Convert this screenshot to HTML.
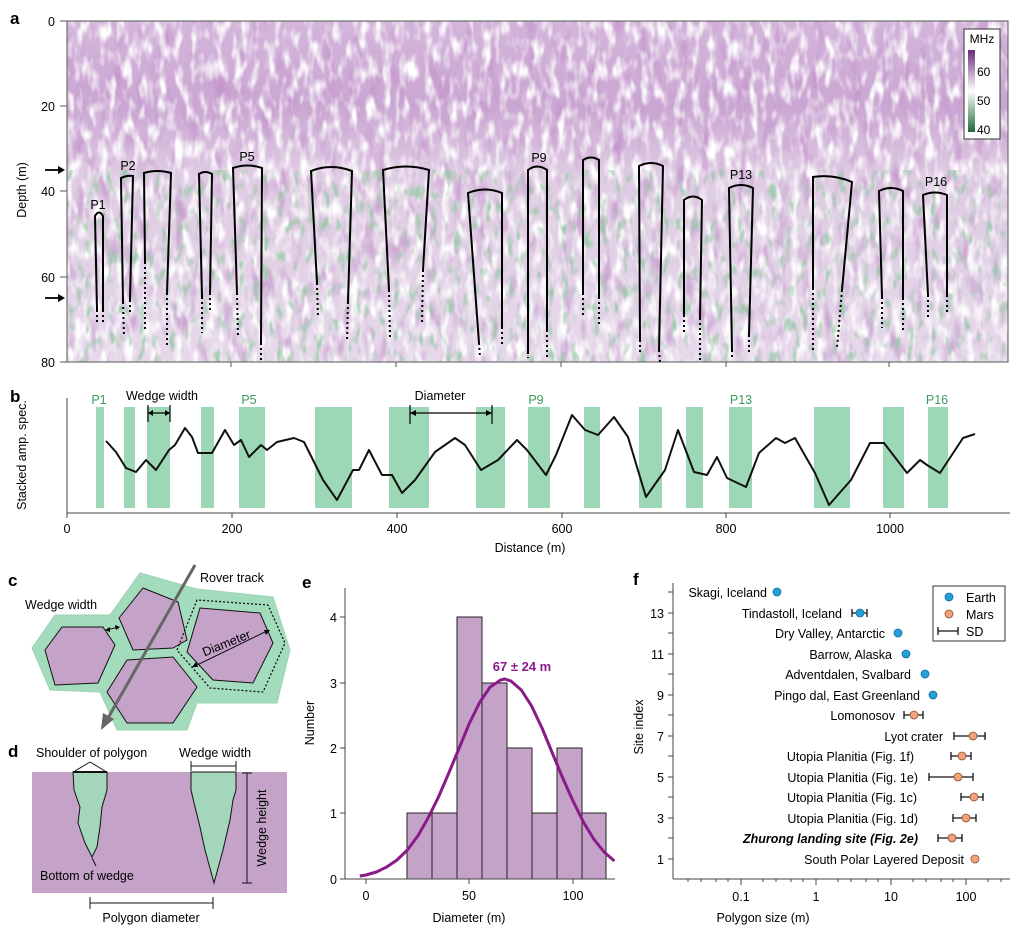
<!DOCTYPE html>
<html><head><meta charset="utf-8"><style>
body{margin:0;background:#fff}
svg{display:block;font-family:"Liberation Sans",sans-serif}
</style></head><body>
<svg width="1024" height="943" viewBox="0 0 1024 943" xmlns="http://www.w3.org/2000/svg">
<defs>
<linearGradient id="bg" x1="0" y1="0" x2="0" y2="1">
<stop offset="0" stop-color="#d4b6db"/><stop offset="0.25" stop-color="#caa6d2"/>
<stop offset="0.45" stop-color="#dfcbe3"/><stop offset="1" stop-color="#e6d8ea"/></linearGradient>
<linearGradient id="cb" x1="0" y1="0" x2="0" y2="1">
<stop offset="0" stop-color="#6a2a7a"/><stop offset="0.5" stop-color="#ffffff"/><stop offset="1" stop-color="#1d6b3a"/></linearGradient>
<filter id="nw" x="0" y="0" width="1" height="1"><feTurbulence type="fractalNoise" baseFrequency="0.12 0.05" numOctaves="2" seed="3"/><feColorMatrix type="matrix" values="0 0 0 0 1 0 0 0 0 1 0 0 0 0 1 3 0 0 0 -1.35"/></filter>
<filter id="np" x="0" y="0" width="1" height="1"><feTurbulence type="fractalNoise" baseFrequency="0.08 0.03" numOctaves="2" seed="7"/><feColorMatrix type="matrix" values="0 0 0 0 0.55 0 0 0 0 0.3 0 0 0 0 0.6 0 0 3 0 -1.55"/></filter>
<filter id="ng" x="0" y="0" width="1" height="1"><feTurbulence type="fractalNoise" baseFrequency="0.13 0.06" numOctaves="2" seed="11"/><feColorMatrix type="matrix" values="0 0 0 0 0.33 0 0 0 0 0.58 0 0 0 0 0.4 0 4 0 0 -2.2"/></filter>
</defs>
<!-- Panel a -->
<text x="10" y="24" font-size="17" font-weight="bold">a</text>
<rect x="67" y="21" width="941" height="341" fill="url(#bg)"/>
<rect x="67" y="21" width="941" height="341" filter="url(#np)" opacity="0.85"/>
<rect x="67" y="21" width="941" height="341" filter="url(#nw)"/>
<rect x="67" y="170" width="941" height="192" filter="url(#ng)" opacity="0.85"/>
<rect x="67" y="21" width="941" height="341" fill="none" stroke="#555" stroke-width="1"/>
<g font-size="12.5" text-anchor="end">
<text x="55" y="26">0</text><text x="55" y="111">20</text><text x="55" y="196">40</text><text x="55" y="282">60</text><text x="55" y="367">80</text></g>
<g stroke="#555"><line x1="60" y1="21" x2="67" y2="21"/><line x1="60" y1="106" x2="67" y2="106"/><line x1="60" y1="191" x2="67" y2="191"/><line x1="60" y1="277" x2="67" y2="277"/><line x1="60" y1="362" x2="67" y2="362"/>
<line x1="231" y1="362" x2="231" y2="367"/><line x1="396" y1="362" x2="396" y2="367"/><line x1="561" y1="362" x2="561" y2="367"/><line x1="726" y1="362" x2="726" y2="367"/><line x1="889" y1="362" x2="889" y2="367"/></g>
<text transform="translate(26,190) rotate(-90)" font-size="12.5" text-anchor="middle">Depth (m)</text>
<g stroke="#000" stroke-width="1.8"><line x1="45" y1="170" x2="60" y2="170"/><line x1="45" y1="298" x2="60" y2="298"/></g>
<path d="M58,166 L65,170 L58,174Z M58,294 L65,298 L58,302Z" fill="#000"/>
<g fill="none" stroke="#000" stroke-width="2">
<path d="M97,310 L95,216 Q99,209 103,216 L103,310"/>
<path d="M123,302 L121,178 Q127,175 133,176 L130,300"/>
<path d="M145,262 L144,173 Q157,169 171,173 L167,293"/>
<path d="M202,297 L199,174 Q205,170 212,174 L210,293"/>
<path d="M237,293 L233,168 Q247,163 262,168 L261,343"/>
<path d="M317,283 L311,171 Q331,163 352,171 L348,302"/>
<path d="M389,290 L383,170 Q406,163 429,170 L423,270"/>
<path d="M479,343 L468,193 Q485,186 502,193 L502,327"/>
<path d="M528,352 L528,170 Q537,163 547,170 L547,330"/>
<path d="M583,293 L583,160 Q591,155 599,160 L599,297"/>
<path d="M640,340 L639,166 Q651,160 663,166 L659,350"/>
<path d="M684,315 L684,200 Q693,193 702,200 L700,318"/>
<path d="M732,350 L729,188 Q741,182 753,188 L749,335"/>
<path d="M813,288 L813,177 Q833,174 852,182 L842,290"/>
<path d="M882,297 L879,191 Q891,185 903,191 L903,298"/>
<path d="M928,295 L923,195 Q935,190 947,195 L947,295"/>
</g>
<g fill="none" stroke="#000" stroke-width="2" stroke-dasharray="2 3">
<path d="M97,310 L97,325 M103,310 L103,325 M123,302 L124,337 M130,300 L130,315 M145,262 L145,330 M167,293 L167,347 M202,297 L202,333 M210,293 L210,312 M237,293 L238,338 M261,343 L261,360 M317,283 L318,318 M348,302 L347,342 M389,290 L390,340 M423,270 L422,325 M479,343 L480,357 M502,327 L502,345 M528,352 L528,358 M547,330 L547,357 M583,293 L583,317 M599,297 L599,325 M640,340 L640,352 M659,350 L660,362 M684,315 L684,335 M700,318 L700,362 M732,350 L732,360 M749,335 L749,352 M813,288 L813,353 M842,290 L837,348 M882,297 L882,328 M903,298 L903,333 M928,295 L928,320 M947,295 L947,315"/></g>
<g font-size="12.5" text-anchor="middle"><text x="98" y="209">P1</text><text x="128" y="170">P2</text><text x="247" y="161">P5</text><text x="539" y="162">P9</text><text x="741" y="179">P13</text><text x="936" y="186">P16</text></g>
<rect x="964" y="29" width="36" height="110" fill="#fff" stroke="#333"/>
<text x="982" y="43" font-size="12" text-anchor="middle">MHz</text>
<rect x="968" y="50" width="7" height="82" fill="url(#cb)"/>
<g font-size="12"><text x="977" y="76">60</text><text x="977" y="105">50</text><text x="977" y="134">40</text></g>
<!-- Panel b -->
<text x="10" y="402" font-size="17" font-weight="bold">b</text>
<g fill="#9dd8b6">
<rect x="96" y="407" width="8" height="101"/><rect x="124" y="407" width="11" height="101"/><rect x="147" y="407" width="23" height="101"/><rect x="201" y="407" width="13" height="101"/><rect x="239" y="407" width="26" height="101"/><rect x="315" y="407" width="37" height="101"/><rect x="389" y="407" width="40" height="101"/><rect x="476" y="407" width="29" height="101"/><rect x="528" y="407" width="22" height="101"/><rect x="584" y="407" width="16" height="101"/><rect x="639" y="407" width="23" height="101"/><rect x="686" y="407" width="17" height="101"/><rect x="729" y="407" width="23" height="101"/><rect x="814" y="407" width="36" height="101"/><rect x="883" y="407" width="21" height="101"/><rect x="928" y="407" width="20" height="101"/></g>
<g font-size="12.5" fill="#3a9a5a" text-anchor="middle"><text x="99" y="404">P1</text><text x="249" y="404">P5</text><text x="536" y="404">P9</text><text x="741" y="404">P13</text><text x="937" y="404">P16</text></g>
<text x="162" y="400" font-size="12.5" text-anchor="middle">Wedge width</text>
<text x="440" y="400" font-size="12.5" text-anchor="middle">Diameter</text>
<g stroke="#000" stroke-width="1.2"><line x1="148" y1="413" x2="170" y2="413"/><line x1="148" y1="405" x2="148" y2="422"/><line x1="170" y1="405" x2="170" y2="422"/>
<line x1="410" y1="413" x2="492" y2="413"/><line x1="410" y1="405" x2="410" y2="424"/><line x1="492" y1="405" x2="492" y2="424"/></g>
<path d="M148,413 l5,-3 v6z M170,413 l-5,-3 v6z M410,413 l6,-3 v6z M492,413 l-6,-3 v6z"/>
<polyline fill="none" stroke="#111" stroke-width="2" stroke-linejoin="round" points="106,441 116,452 126,468 136,472 146,460 156,470 169,450 175,445 185,428 192,437 198,453 212,453 225,430 234,445 241,440 249,457 261,445 267,450 277,442 294,438 304,442 323,480 337,500 353,470 359,470 369,450 382,475 392,475 402,493 415,480 435,452 455,438 465,445 481,470 498,460 517,440 527,450 546,475 556,455 572,415 585,430 598,435 614,417 628,437 646,497 665,470 678,430 694,472 707,475 717,457 727,478 746,487 759,453 776,438 785,443 795,438 815,473 829,505 851,480 870,443 884,443 907,473 920,460 927,465 940,473 963,438 975,434"/>
<g stroke="#444"><line x1="67" y1="513" x2="1010" y2="513"/><line x1="67" y1="398" x2="67" y2="513"/>
<line x1="67" y1="513" x2="67" y2="518"/><line x1="232" y1="513" x2="232" y2="518"/><line x1="397" y1="513" x2="397" y2="518"/><line x1="562" y1="513" x2="562" y2="518"/><line x1="726" y1="513" x2="726" y2="518"/><line x1="890" y1="513" x2="890" y2="518"/></g>
<g font-size="12.5" text-anchor="middle"><text x="67" y="533">0</text><text x="232" y="533">200</text><text x="397" y="533">400</text><text x="562" y="533">600</text><text x="726" y="533">800</text><text x="890" y="533">1000</text>
<text x="530" y="552">Distance (m)</text></g>
<text transform="translate(26,455) rotate(-90)" font-size="12.5" text-anchor="middle">Stacked amp. spec.</text>
<!-- Panel c -->
<text x="8" y="586" font-size="17" font-weight="bold">c</text>
<polygon points="32,648 55,615 110,615 140,573 197,589 273,597 290,650 277,703 197,703 187,730 117,730 100,692 50,690" fill="#a3dbbd" stroke="#9cd3b5"/>
<g fill="#c5a3c9" stroke="#111" stroke-width="1">
<polygon points="45,650 62,627 103,627 115,645 98,683 55,685"/>
<polygon points="119,618 143,588 178,602 187,640 173,648 133,650"/>
<polygon points="107,692 127,660 173,657 197,687 173,723 127,723"/>
<polygon points="187,652 200,608 260,613 273,643 253,683 213,680"/></g>
<polygon points="177,650 197,600 268,605 285,643 263,692 210,688" fill="none" stroke="#111" stroke-width="1.3" stroke-dasharray="2 2"/>
<line x1="195" y1="565" x2="108" y2="718" stroke="#666" stroke-width="3"/>
<path d="M101,730 L103,713 L114,719Z" fill="#666"/>
<g stroke="#111" stroke-width="1"><line x1="106" y1="630" x2="119" y2="627"/><line x1="193" y1="667" x2="269" y2="630"/></g>
<path d="M105,630 l5,-3 l0,5z M120,627 l-5,-2 l1,5z M192,667 l4,-5 l2,5z M270,630 l-4,5 l-2,-5z"/>
<g font-size="12.5"><text x="25" y="609">Wedge width</text><text x="200" y="582">Rover track</text></g>
<text transform="translate(228,647) rotate(-22)" font-size="12.5" text-anchor="middle">Diameter</text>
<!-- Panel d -->
<text x="8" y="757" font-size="17" font-weight="bold">d</text>
<rect x="32" y="772" width="255" height="121" fill="#c5a3c9"/>
<g fill="#a3d6bb" stroke="#111" stroke-width="1">
<polygon points="73,772 74,790 80,807 78,823 85,843 92,857 97,847 100,827 102,807 107,790 107,772"/>
<polygon points="191,772 191,790 195,807 200,827 205,850 214,883 223,850 230,820 233,800 236,790 236,772"/></g>
<g stroke="#111" stroke-width="1"><line x1="73" y1="772" x2="107" y2="772" stroke-width="2"/><line x1="90" y1="762" x2="75" y2="771"/><line x1="90" y1="762" x2="105" y2="771"/>
<line x1="191" y1="766" x2="236" y2="766"/><line x1="191" y1="761" x2="191" y2="771"/><line x1="236" y1="761" x2="236" y2="771"/>
<line x1="247" y1="773" x2="247" y2="883"/><line x1="242" y1="773" x2="252" y2="773"/><line x1="242" y1="883" x2="252" y2="883"/>
<line x1="90" y1="903" x2="213" y2="903"/><line x1="90" y1="897" x2="90" y2="909"/><line x1="213" y1="897" x2="213" y2="909"/>
<line x1="92" y1="858" x2="96" y2="866"/></g>
<g font-size="12.5"><text x="36" y="757">Shoulder of polygon</text><text x="179" y="757">Wedge width</text><text x="40" y="880">Bottom of wedge</text><text x="151" y="922" text-anchor="middle">Polygon diameter</text></g>
<text transform="translate(266,828) rotate(-90)" font-size="12.5" text-anchor="middle">Wedge height</text>
<!-- Panel e -->
<text x="302" y="588" font-size="17" font-weight="bold">e</text>
<g fill="#c5a3c9" stroke="#222" stroke-width="1">
<rect x="407" y="813" width="25" height="66"/><rect x="432" y="813" width="25" height="66"/><rect x="457" y="617" width="25" height="262"/><rect x="482" y="683" width="25" height="196"/><rect x="507" y="748" width="25" height="131"/><rect x="532" y="813" width="25" height="66"/><rect x="557" y="748" width="25" height="131"/><rect x="582" y="813" width="24" height="66"/></g>
<polyline fill="none" stroke="#8b1a89" stroke-width="3" stroke-linejoin="round" points="359.8,876 366,875 376.4,872 386.7,867 397,860 407.4,850 417.8,836 428.1,818 438.5,797 448.8,773 459.2,748 469.5,723 479.9,702 490.2,687 500.6,680 504.7,679 510.9,681 521.3,690 531.6,706 542,728 552.3,753 562.7,778 573,801 583.4,822 593.7,839 604.1,852 614.4,861"/>
<text x="522" y="671" font-size="13" fill="#8b1a89" font-weight="bold" text-anchor="middle">67 ± 24 m</text>
<g stroke="#444"><line x1="345" y1="588" x2="345" y2="879"/><line x1="345" y1="879" x2="615" y2="879"/>
<line x1="340" y1="879" x2="345" y2="879"/><line x1="340" y1="813" x2="345" y2="813"/><line x1="340" y1="748" x2="345" y2="748"/><line x1="340" y1="683" x2="345" y2="683"/><line x1="340" y1="617" x2="345" y2="617"/>
<line x1="366" y1="879" x2="366" y2="884"/><line x1="469" y1="879" x2="469" y2="884"/><line x1="573" y1="879" x2="573" y2="884"/></g>
<g font-size="12.5" text-anchor="end"><text x="337" y="884">0</text><text x="337" y="818">1</text><text x="337" y="753">2</text><text x="337" y="688">3</text><text x="337" y="622">4</text></g>
<g font-size="12.5" text-anchor="middle"><text x="366" y="900">0</text><text x="469" y="900">50</text><text x="573" y="900">100</text><text x="469" y="922">Diameter (m)</text></g>
<text transform="translate(314,723) rotate(-90)" font-size="12.5" text-anchor="middle">Number</text>
<!-- Panel f -->
<text x="633" y="585" font-size="17" font-weight="bold">f</text>
<g stroke="#444"><line x1="673" y1="583" x2="673" y2="879"/><line x1="673" y1="879" x2="1010" y2="879"/></g>
<g stroke="#444">
<line x1="668" y1="592" x2="673" y2="592"/><line x1="668" y1="613" x2="673" y2="613"/><line x1="668" y1="633" x2="673" y2="633"/><line x1="668" y1="654" x2="673" y2="654"/><line x1="668" y1="674" x2="673" y2="674"/><line x1="668" y1="695" x2="673" y2="695"/><line x1="668" y1="715" x2="673" y2="715"/><line x1="668" y1="736" x2="673" y2="736"/><line x1="668" y1="756" x2="673" y2="756"/><line x1="668" y1="777" x2="673" y2="777"/><line x1="668" y1="797" x2="673" y2="797"/><line x1="668" y1="818" x2="673" y2="818"/><line x1="668" y1="838" x2="673" y2="838"/><line x1="668" y1="859" x2="673" y2="859"/>
<line x1="741" y1="879" x2="741" y2="885"/><line x1="816" y1="879" x2="816" y2="885"/><line x1="891" y1="879" x2="891" y2="885"/><line x1="966" y1="879" x2="966" y2="885"/><line x1="688" y1="879" x2="688" y2="882"/><line x1="763" y1="879" x2="763" y2="882"/><line x1="838" y1="879" x2="838" y2="882"/><line x1="913" y1="879" x2="913" y2="882"/><line x1="988" y1="879" x2="988" y2="882"/>
<line x1="701" y1="879" x2="701" y2="882"/><line x1="776" y1="879" x2="776" y2="882"/><line x1="851" y1="879" x2="851" y2="882"/><line x1="926" y1="879" x2="926" y2="882"/><line x1="1001" y1="879" x2="1001" y2="882"/>
<line x1="716" y1="879" x2="716" y2="882"/><line x1="791" y1="879" x2="791" y2="882"/><line x1="866" y1="879" x2="866" y2="882"/><line x1="941" y1="879" x2="941" y2="882"/>
<line x1="728" y1="879" x2="728" y2="882"/><line x1="803" y1="879" x2="803" y2="882"/><line x1="878" y1="879" x2="878" y2="882"/><line x1="953" y1="879" x2="953" y2="882"/></g>
<g font-size="12.5" text-anchor="end"><text x="664" y="618">13</text><text x="664" y="659">11</text><text x="664" y="700">9</text><text x="664" y="741">7</text><text x="664" y="782">5</text><text x="664" y="823">3</text><text x="664" y="864">1</text></g>
<g font-size="12.5" text-anchor="middle"><text x="741" y="901">0.1</text><text x="816" y="901">1</text><text x="891" y="901">10</text><text x="966" y="901">100</text><text x="763" y="922">Polygon size (m)</text></g>
<text transform="translate(643,727) rotate(-90)" font-size="12.5" text-anchor="middle">Site index</text>
<g font-size="12.5" text-anchor="end">
<text x="767" y="597">Skagi, Iceland</text><text x="842" y="618">Tindastoll, Iceland</text><text x="885" y="638">Dry Valley, Antarctic</text><text x="892" y="659">Barrow, Alaska</text><text x="911" y="679">Adventdalen, Svalbard</text><text x="920" y="700">Pingo dal, East Greenland</text><text x="895" y="720">Lomonosov</text><text x="943" y="741">Lyot crater</text><text x="914" y="761">Utopia Planitia (Fig. 1f)</text><text x="918" y="782">Utopia Planitia (Fig. 1e)</text><text x="917" y="802">Utopia Planitia (Fig. 1c)</text><text x="918" y="823">Utopia Planitia (Fig. 1d)</text>
<text x="918" y="843" font-weight="bold" font-style="italic">Zhurong landing site (Fig. 2e)</text><text x="964" y="864">South Polar Layered Deposit</text></g>
<g stroke="#111" stroke-width="1.3">
<path d="M852,613 H867 M852,609 V617 M867,609 V617 M904,715 H923 M904,711 V719 M923,711 V719 M954,736 H985 M954,732 V740 M985,732 V740 M951,756 H971 M951,752 V760 M971,752 V760 M929,777 H973 M929,773 V781 M973,773 V781 M961,797 H983 M961,793 V801 M983,793 V801 M953,818 H976 M953,814 V822 M976,814 V822 M938,838 H962 M938,834 V842 M962,834 V842"/></g>
<g fill="#22a0da" stroke="#1a6d96" stroke-width="0.8">
<circle cx="777" cy="592" r="4"/><circle cx="860" cy="613" r="4"/><circle cx="898" cy="633" r="4"/><circle cx="906" cy="654" r="4"/><circle cx="925" cy="674" r="4"/><circle cx="933" cy="695" r="4"/></g>
<g fill="#f0a27a" stroke="#8a5030" stroke-width="0.8">
<circle cx="914" cy="715" r="4"/><circle cx="973" cy="736" r="4"/><circle cx="962" cy="756" r="4"/><circle cx="958" cy="777" r="4"/><circle cx="974" cy="797" r="4"/><circle cx="966" cy="818" r="4"/><circle cx="952" cy="838" r="4"/><circle cx="975" cy="859" r="4"/></g>
<rect x="933" y="586" width="72" height="55" fill="#fff" stroke="#333"/>
<circle cx="949" cy="597" r="4" fill="#22a0da" stroke="#1a6d96" stroke-width="0.8"/>
<circle cx="949" cy="614" r="4" fill="#f0a27a" stroke="#8a5030" stroke-width="0.8"/>
<path d="M938,631 H958 M938,627 V635 M958,627 V635" stroke="#111" stroke-width="1.3"/>
<g font-size="12.5"><text x="966" y="602">Earth</text><text x="966" y="619">Mars</text><text x="966" y="636">SD</text></g>
</svg>
</body></html>
